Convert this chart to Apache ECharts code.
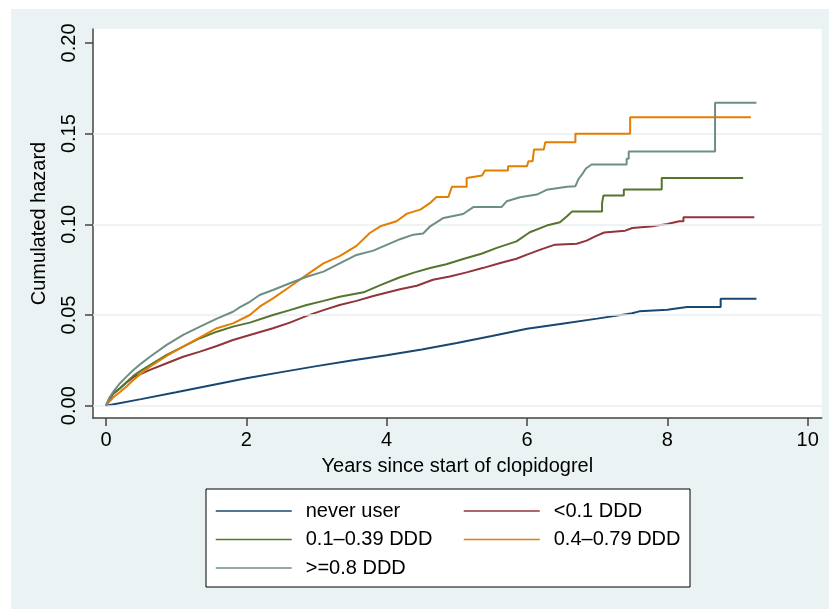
<!DOCTYPE html>
<html>
<head>
<meta charset="utf-8">
<script src="https://cdn.jsdelivr.net/npm/echarts@6/dist/echarts.min.js"></script>
<style>
  html, body { margin: 0; padding: 0; background: #fff; }
  #main { position: absolute; left: 11px; top: 9px; width: 818px; height: 600px; background: #eaf2f3; }
</style>
</head>
<body>
<div id="main"></div>
<script>
// axis ticks
const xTicks = [0, 2, 4, 6, 8, 10];
const yTicks = [0, 0.05, 0.1, 0.15, 0.2];
const gridTicks = [0, 0.05, 0.1, 0.15];

// cumulated hazard, [years, hazard]
const neverUser = [[0,0],[0.5,0.0036],[1,0.0074],[1.5,0.0113],[2,0.0151],[2.5,0.0185],[3,0.0218],[3.5,0.0249],[4,0.0278],[4.5,0.031],[5,0.0345],[5.5,0.0384],[6,0.0424],[6.5,0.0452],[7,0.048],[7.5,0.051],[7.6,0.052],[8,0.0529],[8.28,0.0544],[8.76,0.0544],[8.76,0.059],[9.27,0.059]];
const lt01 = [[0,0],[0.1,0.0065],[0.2,0.0096],[0.3,0.013],[0.39,0.0157],[0.5,0.0175],[0.627,0.0197],[0.865,0.0234],[1.1,0.027],[1.34,0.0298],[1.58,0.0329],[1.81,0.0362],[2.05,0.039],[2.38,0.0427],[2.62,0.0458],[2.86,0.0495],[3.1,0.0527],[3.33,0.0555],[3.57,0.0578],[3.81,0.0605],[4.19,0.0642],[4.43,0.0661],[4.66,0.0694],[4.9,0.0712],[5.14,0.0735],[5.38,0.076],[5.62,0.0787],[5.85,0.081],[6,0.0833],[6.2,0.0862],[6.4,0.0888],[6.71,0.0893],[6.85,0.091],[6.98,0.0935],[7.1,0.0955],[7.4,0.0965],[7.5,0.098],[7.8,0.099],[8,0.1002],[8.17,0.1017],[8.23,0.1017],[8.23,0.1039],[9.24,0.1039]];
const d01to039 = [[0,0],[0.05,0.004],[0.1,0.0065],[0.2,0.0096],[0.3,0.0132],[0.39,0.0164],[0.5,0.0193],[0.627,0.0224],[0.865,0.028],[1.1,0.0325],[1.34,0.0372],[1.58,0.0408],[1.81,0.0436],[2.05,0.0458],[2.38,0.05],[2.62,0.0527],[2.86,0.0555],[3.1,0.0578],[3.33,0.0601],[3.67,0.0625],[3.91,0.0665],[4.19,0.0708],[4.4,0.0735],[4.62,0.0759],[4.85,0.078],[5.09,0.0809],[5.35,0.0838],[5.57,0.087],[5.85,0.0906],[6.04,0.0956],[6.28,0.0993],[6.47,0.1011],[6.57,0.1044],[6.64,0.107],[7.07,0.107],[7.07,0.1118],[7.09,0.1159],[7.38,0.1159],[7.38,0.1192],[7.92,0.1192],[7.92,0.1256],[9.08,0.1256]];
const d04to079 = [[0,0],[0.1,0.0045],[0.2,0.0075],[0.3,0.0108],[0.39,0.0142],[0.5,0.0178],[0.627,0.0215],[0.865,0.0274],[1.1,0.0325],[1.34,0.0377],[1.58,0.0427],[1.81,0.0454],[2.05,0.05],[2.19,0.0546],[2.38,0.0592],[2.62,0.0656],[2.86,0.0721],[3.1,0.0785],[3.33,0.0825],[3.57,0.0881],[3.76,0.0952],[3.91,0.0989],[4.14,0.1017],[4.29,0.1059],[4.48,0.1081],[4.62,0.1118],[4.71,0.1151],[4.88,0.1151],[4.93,0.1207],[5.14,0.1207],[5.14,0.1256],[5.36,0.1269],[5.4,0.1297],[5.73,0.1297],[5.73,0.132],[6,0.132],[6.02,0.1348],[6.08,0.1348],[6.1,0.1413],[6.24,0.1413],[6.26,0.1453],[6.69,0.1453],[6.69,0.15],[7.47,0.15],[7.47,0.159],[9.19,0.159]];
const ge08 = [[0,0],[0.05,0.0045],[0.105,0.0077],[0.2,0.0124],[0.3,0.0163],[0.39,0.0197],[0.5,0.0232],[0.627,0.027],[0.865,0.0335],[1.1,0.039],[1.34,0.0436],[1.58,0.048],[1.81,0.0518],[1.91,0.0543],[2.05,0.0573],[2.19,0.061],[2.38,0.0638],[2.62,0.0675],[2.86,0.0711],[3.1,0.0739],[3.33,0.0785],[3.57,0.0831],[3.81,0.0855],[4.05,0.0895],[4.19,0.0918],[4.38,0.0943],[4.52,0.0949],[4.62,0.0989],[4.81,0.1035],[5.09,0.1057],[5.24,0.1096],[5.64,0.1096],[5.71,0.1127],[5.9,0.1149],[6.14,0.1164],[6.28,0.119],[6.57,0.1207],[6.69,0.121],[6.73,0.1247],[6.8,0.1284],[6.84,0.1308],[6.92,0.133],[7.42,0.133],[7.42,0.1361],[7.45,0.1361],[7.45,0.1402],[8.68,0.1402],[8.68,0.1671],[9.27,0.1671]];

const names = ['never user', '<0.1 DDD', '0.1\u20130.39 DDD', '0.4\u20130.79 DDD', '>=0.8 DDD'];
const colors = ['#1a476f', '#90353b', '#55752f', '#e37e00', '#6e8e84'];
const seriesData = [neverUser, lt01, d01to039, d04to079, ge08];

const font = 'Liberation Sans, Arial, Helvetica, sans-serif';
const chart = echarts.init(document.getElementById('main'));

const legendBase = {
  orient: 'vertical',
  top: 492,
  padding: 0,
  itemWidth: 76,
  itemHeight: 20,
  itemGap: 8.5,
  lineStyle: { width: 1.5 },
  itemStyle: { opacity: 0 },
  textStyle: { fontFamily: font, fontSize: 20, color: '#000', padding: [0, 0, 0, 9] }
};

const series = seriesData.map((d, i) => ({
  name: names[i],
  type: 'line',
  data: d,
  showSymbol: false,
  symbol: 'none',
  z: 3 + i,
  lineStyle: { color: colors[i], width: 2 },
  itemStyle: { color: colors[i] },
  animation: false
}));

// light horizontal grid lines
series.unshift({
  type: 'line',
  data: [],
  z: 1,
  silent: true,
  markLine: {
    silent: true,
    symbol: 'none',
    label: { show: false },
    animation: false,
    lineStyle: { color: '#e8f0f2', width: 1.5, type: 'solid' },
    data: gridTicks.map(v => ({ yAxis: v }))
  }
});

const option = {
  animation: false,
  grid: { left: 82, top: 20, right: 7.3, bottom: 191, show: true, backgroundColor: '#fff', borderWidth: 0 },
  xAxis: {
    type: 'value',
    min: -0.185,
    max: 10.2,
    name: 'Years since start of clopidogrel',
    nameLocation: 'middle',
    nameGap: 38,
    nameTextStyle: { fontFamily: font, fontSize: 20, color: '#000' },
    axisLine: { onZero: false, lineStyle: { color: '#444', width: 1.5 } },
    axisTick: { show: true, length: 8, customValues: xTicks, lineStyle: { color: '#444', width: 1.5 } },
    axisLabel: { customValues: xTicks, margin: 12, fontFamily: font, fontSize: 20, color: '#000' },
    splitLine: { show: false }
  },
  yAxis: {
    type: 'value',
    min: -0.0068,
    max: 0.2077,
    name: 'Cumulated hazard',
    nameLocation: 'middle',
    nameGap: 44,
    nameRotate: 90,
    nameTextStyle: { fontFamily: font, fontSize: 20, color: '#000' },
    axisLine: { onZero: false, lineStyle: { color: '#444', width: 1.5 } },
    axisTick: { show: true, length: 8, customValues: yTicks, lineStyle: { color: '#444', width: 1.5 } },
    axisLabel: { customValues: yTicks, rotate: 90, margin: 14, fontFamily: font, fontSize: 20, color: '#000',
      formatter: v => v.toFixed(2) },
    splitLine: { show: false }
  },
  legend: [
    Object.assign({}, legendBase, { left: 204, data: [names[0], names[2], names[4]] }),
    Object.assign({}, legendBase, { left: 452, data: [names[1], names[3]] })
  ],
  graphic: [{
    type: 'rect',
    z: -1,
    shape: { x: 195, y: 480, width: 484, height: 98 },
    style: { fill: '#fff', stroke: '#000', lineWidth: 1 }
  }],
  series: series
};

chart.setOption(option);
</script>
</body>
</html>
